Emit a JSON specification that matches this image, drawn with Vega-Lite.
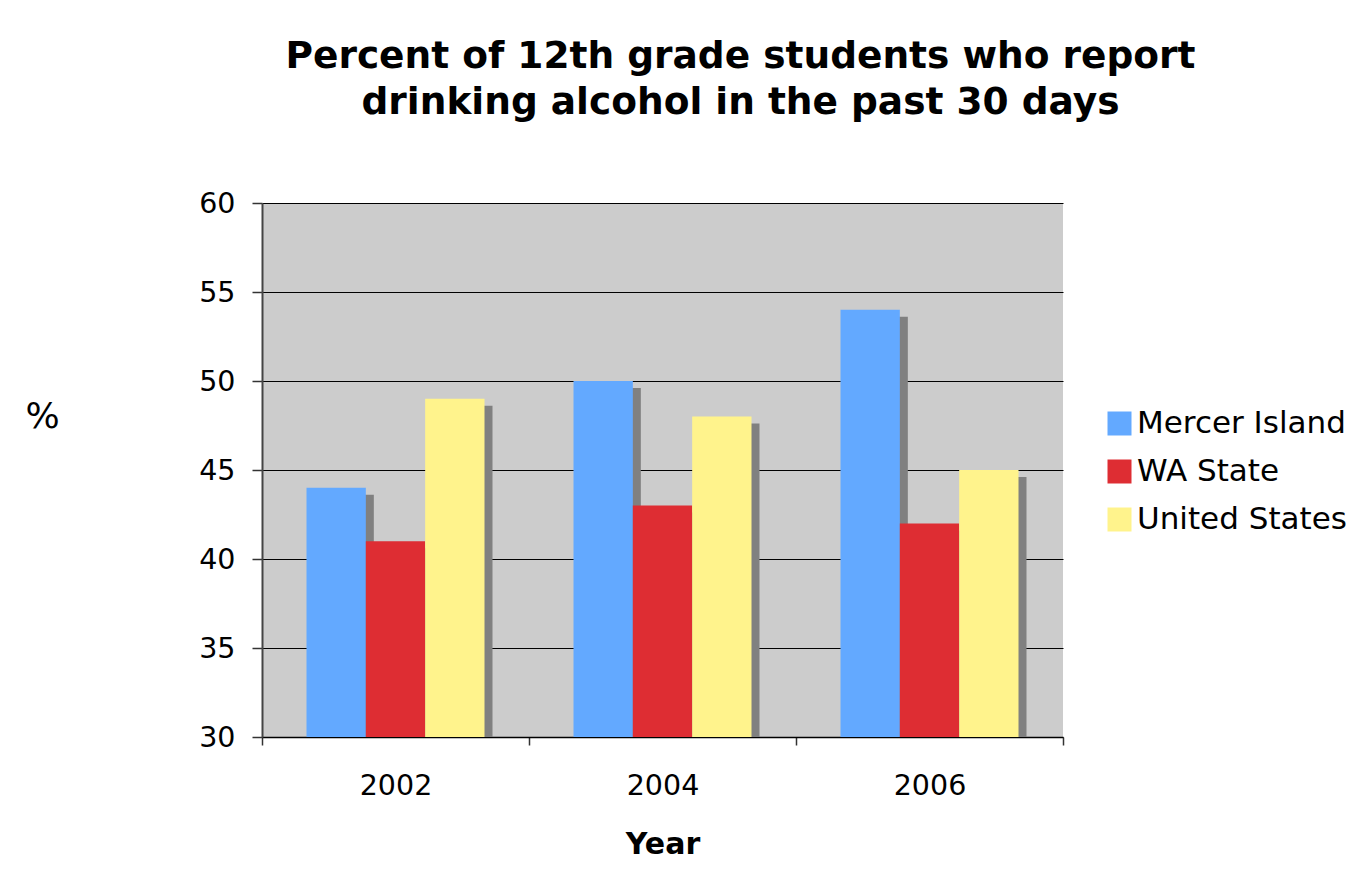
{
  "$schema": "https://vega.github.io/schema/vega-lite/v6.json",
  "width": 801,
  "height": 534,
  "autosize": "none",
  "padding": {"left": 262, "top": 203, "right": 296, "bottom": 156},
  "background": "white",
  "config": {
    "font": "DejaVu Sans",
    "view": {"fill": "#CCCCCC", "stroke": null}
  },
  "title": {
    "text": ["Percent of 12th grade students who report", "drinking alcohol in the past 30 days"],
    "fontSize": 37.5,
    "fontWeight": "bold",
    "color": "black",
    "anchor": "middle",
    "dx": 78,
    "offset": 68,
    "lineHeight": 46
  },
  "data": {
    "values": [
      {"Year": "2002", "Region": "Mercer Island", "Percent": 44},
      {"Year": "2002", "Region": "WA State", "Percent": 41},
      {"Year": "2002", "Region": "United States", "Percent": 49},
      {"Year": "2004", "Region": "Mercer Island", "Percent": 50},
      {"Year": "2004", "Region": "WA State", "Percent": 43},
      {"Year": "2004", "Region": "United States", "Percent": 48},
      {"Year": "2006", "Region": "Mercer Island", "Percent": 54},
      {"Year": "2006", "Region": "WA State", "Percent": 42},
      {"Year": "2006", "Region": "United States", "Percent": 45}
    ]
  },
  "encoding": {
    "x": {
      "field": "Year",
      "type": "nominal",
      "scale": {"paddingInner": 0, "paddingOuter": 0},
      "axis": {
        "title": "Year",
        "titleFontSize": 30,
        "titleFontWeight": "bold",
        "titleColor": "black",
        "titlePadding": 30,
        "labelAngle": 0,
        "labelFontSize": 28.5,
        "labelColor": "black",
        "labelPadding": 26,
        "tickBand": "extent",
        "tickSize": 8,
        "tickColor": "#333333",
        "tickWidth": 1.5,
        "domainColor": "black",
        "domainWidth": 1.5
      }
    },
    "y2": {"datum": 30}
  },
  "layer": [
    {
      "mark": {"type": "bar", "color": "#808080", "clip": true},
      "encoding": {
        "xOffset": {
          "field": "Region",
          "type": "nominal",
          "sort": ["Mercer Island", "WA State", "United States"],
          "scale": {"paddingInner": 0, "paddingOuter": 0.75, "range": [8, 275]}
        },
        "y": {
          "field": "Percent",
          "type": "quantitative",
          "scale": {"domain": [30, 60], "nice": false, "zero": false, "range": [541, 7]},
          "axis": null
        }
      }
    },
    {
      "mark": {"type": "bar"},
      "encoding": {
        "xOffset": {
          "field": "Region",
          "type": "nominal",
          "sort": ["Mercer Island", "WA State", "United States"],
          "scale": {"paddingInner": 0, "paddingOuter": 0.75, "range": [0, 267]}
        },
        "y": {
          "field": "Percent",
          "type": "quantitative",
          "scale": {"domain": [30, 60], "nice": false, "zero": false},
          "axis": {
            "title": "%",
            "titleAngle": 0,
            "titleFontSize": 36,
            "titleFontWeight": "normal",
            "titleColor": "black",
            "titleAlign": "center",
            "titleBaseline": "middle",
            "titleX": -220,
            "titleY": 213,
            "values": [30, 35, 40, 45, 50, 55, 60],
            "labelFontSize": 28.5,
            "labelColor": "black",
            "labelPadding": 17,
            "tickSize": 10,
            "tickColor": "#333333",
            "tickWidth": 1.5,
            "domainColor": "#444444",
            "domainWidth": 2,
            "grid": true,
            "gridColor": "black",
            "gridWidth": 1.2
          }
        },
        "color": {
          "field": "Region",
          "type": "nominal",
          "scale": {
            "domain": ["Mercer Island", "WA State", "United States"],
            "range": ["#63A9FF", "#DE2D33", "#FFF38C"]
          },
          "legend": {
            "title": null,
            "orient": "none",
            "legendX": 842,
            "legendY": 205,
            "padding": 0,
            "symbolType": "square",
            "symbolSize": 576,
            "symbolStrokeWidth": 0,
            "symbolOpacity": 1,
            "labelFontSize": 31,
            "labelLimit": 0,
            "labelColor": "black",
            "labelOffset": 2,
            "rowPadding": 16
          }
        }
      }
    }
  ],
  "resolve": {"scale": {"xOffset": "independent", "y": "independent"}}
}
